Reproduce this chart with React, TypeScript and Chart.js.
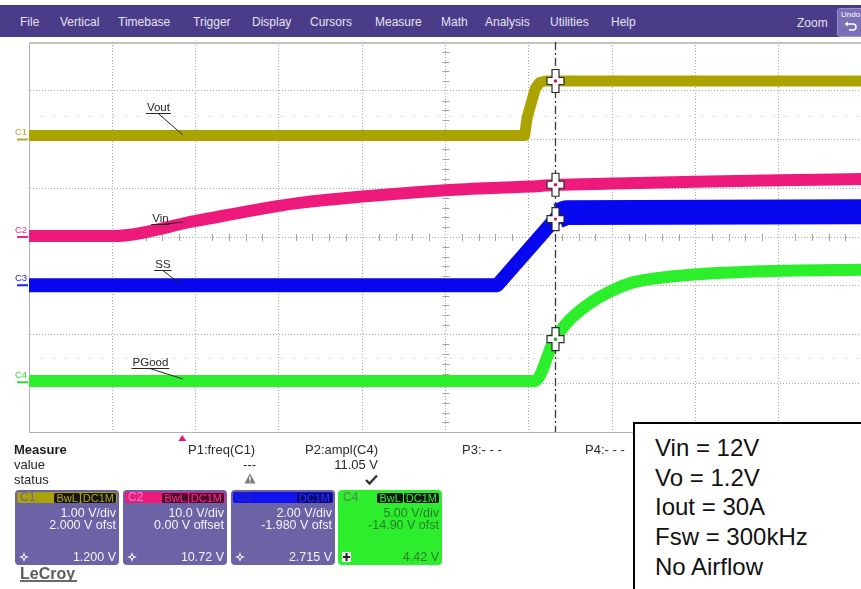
import React, { useEffect, useRef } from 'react';
import { Chart, registerables } from 'chart.js';

Chart.register(...registerables);

const FONT = '"Liberation Sans", Arial, Helvetica, sans-serif';

// ---------------- data ----------------
const channelNames = ['C1', 'C2', 'C3', 'C4'];
const traceNames = ['Vout', 'Vin', 'SS', 'PGood'];
const voltsPerDiv = [1.0, 10.0, 2.0, 5.0];
const offsetVolts = [2.0, 0.0, -1.98, -14.9];
const scaleLabels = ['1.00 V/div', '10.0 V/div', '2.00 V/div', '5.00 V/div'];
const offsetLabels = ['2.000 V ofst', '0.00 V offset', '-1.980 V ofst', '-14.90 V ofst'];
const cursorLabels = ['1.200 V', '10.72 V', '2.715 V', '4.42 V'];
const cursorVolts = [1.2, 10.72, 2.715, 4.42];
const cursorTime = 6.31; // horizontal divisions
const triggerTime = 1.84;

// time in horizontal divisions (0..10), values in volts
const voutTime = [0, 5.95, 5.98, 6.08, 6.13, 6.2, 10];
const voutVolts = [0.08, 0.08, 0.45, 1.05, 1.17, 1.2, 1.2];
const vinTime = [0, 1.0, 2.0, 3.0, 3.25, 4.0, 5.0, 6.0, 6.31, 7.0, 8.0, 9.0, 10.0];
const vinVolts = [0.2, 0.2, 3.3, 6.4, 7.0, 8.3, 9.6, 10.35, 10.65, 10.95, 11.35, 11.65, 11.9];
const ssTime = [0, 5.62, 6.35, 6.45, 10];
const ssVolts = [0.0, 0.0, 2.85, 2.98, 3.02];
const pgoodTime = [0, 6.07, 6.31, 6.49, 6.65, 6.85, 7.06, 7.25, 7.66, 8.26, 9.05, 10];
const pgoodVolts = [0.13, 0.13, 4.42, 6.4, 7.6, 8.75, 9.65, 10.25, 10.8, 11.2, 11.45, 11.55];

const menuItems = ['File', 'Vertical', 'Timebase', 'Trigger', 'Display', 'Cursors', 'Measure', 'Math', 'Analysis', 'Utilities', 'Help'];
const measureNames = ['P1:freq(C1)', 'P2:ampl(C4)', 'P3:- - -', 'P4:- - -'];
const measureValues = ['---', '11.05 V'];
const specLines = ['Vin = 12V', 'Vo = 1.2V', 'Iout = 30A', 'Fsw = 300kHz', 'No Airflow'];
const badges = [['BwL', 'DC1M'], ['BwL', 'DC1M'], ['DC1M'], ['BwL', 'DC1M']];

// ---------------- layout / style ----------------
const traceColors = ['#aba300', '#ee1a7b', '#0707f0', '#2cef2c'];
const labelColors = ['#b3ab3a', '#ee2a85', '#2323e6', '#38d838'];
const traceWidths = [11, 12, 14, 12];
const smoothTrace = [false, true, false, true];
const menuX = [20, 60, 118, 193, 252, 310, 375, 441, 485, 550, 611];
const measureX = [188, 305, 462, 585];
const boxLeft = [15, 123, 231, 338];
const headerBg = ['#aaa20a', '#ec1b7c', '#1212ee', '#2cee2c'];
const headerText = ['#6c62a2', '#ff8cc4', '#2626b4', '#5d7d5d'];
const badgeBg = ['#161616', '#4c0a2c', '#0c0c78', '#141414'];
const badgeFg = ['#b0a814', '#ff2e8e', '#3030ff', '#32ee32'];
// annotation anchors in screen divisions: text centre (gx, gy) and leader end (ex, ey)
const labelAnchors = [
  { gx: 1.554, gy: 2.667, ex: 1.848, ey: 2.092 },
  { gx: 1.578, gy: 0.39, ex: 1.848, ey: 0.308 },
  { gx: 1.608, gy: -0.554, ex: 1.836, ey: -0.985 },
  { gx: 1.458, gy: -2.564, ex: 1.848, ey: -2.913 },
];

function drawCross(ctx: CanvasRenderingContext2D, x: number, y: number, color: string) {
  const w = 3.5, hv = 11.5, hh = 8.5;
  ctx.beginPath();
  ctx.moveTo(x - w, y - hv); ctx.lineTo(x + w, y - hv); ctx.lineTo(x + w, y - w);
  ctx.lineTo(x + hh, y - w); ctx.lineTo(x + hh, y + w); ctx.lineTo(x + w, y + w);
  ctx.lineTo(x + w, y + hv); ctx.lineTo(x - w, y + hv); ctx.lineTo(x - w, y + w);
  ctx.lineTo(x - hh, y + w); ctx.lineTo(x - hh, y - w); ctx.lineTo(x - w, y - w);
  ctx.closePath();
  ctx.fillStyle = '#fbfbfb';
  ctx.fill();
  ctx.strokeStyle = '#2a2a2a';
  ctx.lineWidth = 1.2;
  ctx.stroke();
  ctx.fillStyle = color;
  ctx.beginPath();
  ctx.arc(x, y, 1.7, 0, Math.PI * 2);
  ctx.fill();
}

const scopePlugin = {
  id: 'scopeOverlay',
  beforeDatasetsDraw(chart: any) {
    const { ctx, chartArea: a, scales } = chart;
    const xs = scales.x, ys = scales.yDiv;
    ctx.save();
    // faint dotted rows
    ctx.strokeStyle = '#d4d4d4';
    ctx.lineWidth = 1;
    ctx.setLineDash([2, 10]);
    for (const gy of [2.48, -2.48]) {
      const y = Math.round(ys.getPixelForValue(gy)) + 0.5;
      ctx.beginPath(); ctx.moveTo(a.left + 12, y); ctx.lineTo(a.right, y); ctx.stroke();
    }
    ctx.setLineDash([]);
    // center axis ticks
    ctx.strokeStyle = '#a4a4a4';
    const cy = ys.getPixelForValue(0), cx = xs.getPixelForValue(5);
    for (let k = 1; k < 50; k++) {
      if (k % 5 === 0) continue;
      const x = Math.round(xs.getPixelForValue(k / 5)) + 0.5;
      ctx.beginPath(); ctx.moveTo(x, cy - 3); ctx.lineTo(x, cy + 4); ctx.stroke();
    }
    for (let k = 1; k < 40; k++) {
      if (k % 5 === 0) continue;
      const y = Math.round(ys.getPixelForValue(-4 + k / 5)) + 0.5;
      ctx.beginPath(); ctx.moveTo(cx - 3, y); ctx.lineTo(cx + 4, y); ctx.stroke();
    }
    // top frame
    ctx.strokeStyle = '#c2c2c2';
    ctx.lineWidth = 2;
    ctx.beginPath(); ctx.moveTo(a.left, a.top + 1); ctx.lineTo(a.right, a.top + 1); ctx.stroke();
    ctx.restore();
  },
  afterDatasetsDraw(chart: any) {
    const { ctx, chartArea: a, scales } = chart;
    const xs = scales.x, ys = scales.yDiv;
    ctx.save();
    // cursor line
    const cxp = Math.round(xs.getPixelForValue(cursorTime)) + 0.5;
    ctx.strokeStyle = '#3a3a3a';
    ctx.lineWidth = 1.3;
    ctx.setLineDash([8, 3, 2, 3]);
    ctx.beginPath(); ctx.moveTo(cxp, a.top); ctx.lineTo(cxp, a.bottom); ctx.stroke();
    ctx.setLineDash([]);
    // cursor crosses
    cursorVolts.forEach((v, i) => {
      const y = scales['y' + (i + 1)].getPixelForValue(v);
      drawCross(ctx, cxp, y, i === 3 ? '#2aa02a' : '#c02040');
    });
    // trace annotations
    ctx.font = '11.5px ' + FONT;
    ctx.textAlign = 'center';
    ctx.textBaseline = 'alphabetic';
    labelAnchors.forEach((p, i) => {
      const tx = xs.getPixelForValue(p.gx);
      const ty = ys.getPixelForValue(p.gy);
      const base = ty + 4.2;
      ctx.fillStyle = '#262626';
      ctx.fillText(traceNames[i], tx, base);
      const w = ctx.measureText(traceNames[i]).width;
      ctx.strokeStyle = '#262626';
      ctx.lineWidth = 1;
      ctx.beginPath();
      ctx.moveTo(tx - w / 2 - 1, Math.round(base + 2) + 0.5);
      ctx.lineTo(tx + w / 2 + 1, Math.round(base + 2) + 0.5);
      ctx.stroke();
      ctx.beginPath();
      ctx.moveTo(tx, base + 2.5);
      ctx.lineTo(xs.getPixelForValue(p.ex), ys.getPixelForValue(p.ey));
      ctx.stroke();
    });
    // channel ground markers
    ctx.font = '9.5px ' + FONT;
    ctx.textAlign = 'left';
    ctx.textBaseline = 'middle';
    channelNames.forEach((n, i) => {
      const y0 = scales['y' + (i + 1)].getPixelForValue(0);
      ctx.fillStyle = labelColors[i];
      ctx.fillText(n, 15, y0 - 7);
      ctx.fillRect(17, y0 - 1, 11, 2);
    });
    // trigger marker
    const tx = xs.getPixelForValue(triggerTime);
    ctx.fillStyle = '#ea1a72';
    ctx.beginPath();
    ctx.moveTo(tx, a.bottom + 3); ctx.lineTo(tx + 4, a.bottom + 9); ctx.lineTo(tx - 4, a.bottom + 9);
    ctx.closePath(); ctx.fill();
    ctx.restore();
  },
};

function buildConfig(): any {
  const series = [
    [voutTime, voutVolts],
    [vinTime, vinVolts],
    [ssTime, ssVolts],
    [pgoodTime, pgoodVolts],
  ];
  const datasets = series.map(([t, v], i) => {
    const ds: any = {
      label: traceNames[i],
      data: t.map((tt, k) => ({ x: tt, y: v[k] })),
      yAxisID: 'y' + (i + 1),
      borderColor: traceColors[i],
      backgroundColor: traceColors[i],
      borderWidth: traceWidths[i],
      pointRadius: 0,
      pointHoverRadius: 0,
      borderJoinStyle: 'round',
      borderCapStyle: 'butt',
      cubicInterpolationMode: smoothTrace[i] ? 'monotone' : 'default',
      tension: 0,
      fill: false,
      clip: 0,
    };
    if (i === 2) ds.segment = { borderWidth: (c: any) => (c.p0DataIndex >= 2 ? 25 : 14) };
    return ds;
  });
  const gridStyle = {
    grid: { color: '#a6a6a6', lineWidth: 1, drawTicks: false },
    border: { display: true, color: '#b2b2b2', width: 1, dash: [1, 2] },
    ticks: { display: false, stepSize: 1 },
  };
  const scales: any = {
    x: { type: 'linear', position: 'bottom', min: 0, max: 10, ...gridStyle },
    yDiv: { type: 'linear', position: 'left', min: -4, max: 4, ...gridStyle },
  };
  channelNames.forEach((_, i) => {
    scales['y' + (i + 1)] = {
      type: 'linear',
      display: false,
      min: -4 * voltsPerDiv[i] - offsetVolts[i],
      max: 4 * voltsPerDiv[i] - offsetVolts[i],
    };
  });
  return {
    type: 'line',
    data: { datasets },
    options: {
      responsive: false,
      animation: false,
      devicePixelRatio: 1,
      events: [],
      layout: { padding: { left: 29, top: 42, right: 13, bottom: 157 }, autoPadding: false },
      plugins: { legend: { display: false }, tooltip: { enabled: false } },
      scales,
    },
    plugins: [scopePlugin],
  };
}

function T(props: { x?: number; xr?: number; cy: number; size?: number; bold?: boolean; color?: string; children: any }) {
  const size = props.size ?? 13;
  const top = props.cy - 0.5885 * size;
  const style: any = {
    position: 'absolute',
    top,
    fontSize: size,
    lineHeight: size * 1.2 + 'px',
    fontWeight: props.bold ? 'bold' : 'normal',
    color: props.color ?? '#262626',
    whiteSpace: 'nowrap',
    fontFamily: FONT,
  };
  if (props.xr !== undefined) {
    style.left = props.xr - 300;
    style.width = 300;
    style.textAlign = 'right';
  } else {
    style.left = props.x;
  }
  return <div style={style}>{props.children}</div>;
}

function ChannelBox({ i }: { i: number }) {
  const green = i === 3;
  const bg = green ? '#2cee2c' : '#6c63a7';
  const fg = green ? '#2b7b2b' : '#f3f3f7';
  const left = boxLeft[i];
  const top = 490;
  return (
    <div style={{ position: 'absolute', left, top, width: 104, height: 75, background: bg, borderRadius: 4, overflow: 'hidden', fontFamily: FONT }}>
      <div style={{ position: 'absolute', left: 2, right: 2, top: 2, height: 11, background: headerBg[i], borderRadius: 2 }} />
      <div style={{ position: 'absolute', left: 5, top: 1, fontSize: 12, lineHeight: '13px', color: headerText[i] }}>{channelNames[i]}</div>
      <div style={{ position: 'absolute', right: 3, top: 3, display: 'flex', gap: 1 }}>
        {badges[i].map((b) => (
          <span key={b} style={{ background: badgeBg[i], color: badgeFg[i], fontSize: 11, lineHeight: '10px', height: 10, padding: '0 2px', borderRadius: 2 }}>{b}</span>
        ))}
      </div>
      <T xr={101} cy={23} size={12.5} color={fg}>{scaleLabels[i]}</T>
      <T xr={101} cy={35} size={12.5} color={fg}>{offsetLabels[i]}</T>
      <T xr={101} cy={67} size={12.5} color={fg}>{cursorLabels[i]}</T>
      {green ? (
        <svg style={{ position: 'absolute', left: 4, top: 62 }} width={9} height={10} viewBox="0 0 9 10">
          <rect x={0} y={0} width={9} height={10} fill="#f4f4f4" />
          <path d="M4.5 1 V9 M1 5 H8" stroke="#222" strokeWidth={2} />
        </svg>
      ) : (
        <svg style={{ position: 'absolute', left: 4, top: 62 }} width={10} height={10} viewBox="0 0 10 10">
          <path d="M5 0 L6.3 3.7 L10 5 L6.3 6.3 L5 10 L3.7 6.3 L0 5 L3.7 3.7 Z" fill="#f6f6f6" />
          <circle cx={5} cy={5} r={1.2} fill="#6c63a7" />
        </svg>
      )}
    </div>
  );
}

export default function App() {
  const ref = useRef<HTMLCanvasElement>(null);
  useEffect(() => {
    const chart = new Chart(ref.current as HTMLCanvasElement, buildConfig());
    return () => chart.destroy();
  }, []);

  return (
    <div style={{ position: 'fixed', left: 0, top: 0, width: 861, height: 589, overflow: 'hidden', background: '#ffffff', fontFamily: FONT }}>
      {/* menu bar */}
      <div style={{ position: 'absolute', left: 0, top: 5, width: 861, height: 32, background: '#4b3c8a' }} />
      {menuItems.map((m, k) => (
        <T key={m} x={menuX[k]} cy={22.5} size={12} color="#e4e2f2">{m}</T>
      ))}
      <T x={797} cy={23} size={12} color="#e4e2f2">Zoom</T>
      <div style={{ position: 'absolute', left: 837, top: 8, width: 30, height: 27, background: '#7b6fb7', borderRadius: 3, border: '1px solid #9a90cc' }}>
        <div style={{ position: 'absolute', left: 3, top: 1, fontSize: 8, lineHeight: '9px', color: '#ffffff', fontFamily: FONT }}>Undo</div>
        <svg style={{ position: 'absolute', left: 6, top: 12 }} width={14} height={10} viewBox="0 0 14 10">
          <path d="M3 3 H9 A3 3 0 0 1 9 9 H5" stroke="#fff" strokeWidth={1.5} fill="none" />
          <path d="M0.5 3 L4 0.5 L4 5.5 Z" fill="#fff" />
        </svg>
      </div>

      <canvas ref={ref} width={875} height={589} style={{ position: 'absolute', left: 0, top: 0, width: 875, height: 589 }} />

      {/* measurement panel */}
      <T x={14} cy={450} bold color="#1c1c1c">Measure</T>
      <T x={14} cy={465}>value</T>
      <T x={14} cy={480}>status</T>
      {measureNames.map((m, k) => (
        <T key={m} x={measureX[k]} cy={450} color="#2c2c2c">{m}</T>
      ))}
      <T xr={256} cy={465}>{measureValues[0]}</T>
      <T xr={378} cy={465}>{measureValues[1]}</T>
      <svg style={{ position: 'absolute', left: 244, top: 473 }} width={12} height={11} viewBox="0 0 12 11">
        <path d="M6 0.5 L11.5 10.5 H0.5 Z" fill="#7a7a7a" />
        <path d="M6 3.5 V7.5 M6 8.5 V9.5" stroke="#fff" strokeWidth={1.4} />
      </svg>
      <svg style={{ position: 'absolute', left: 365, top: 474 }} width={13} height={11} viewBox="0 0 13 11">
        <path d="M1 6 L4.5 9.5 L12 1.5" stroke="#333" strokeWidth={2.4} fill="none" />
      </svg>
      {channelNames.map((_, i) => <ChannelBox key={i} i={i} />)}
      <T x={20} cy={573.5} size={16} bold color="#5c5c5c">LeCroy</T>
      <div style={{ position: 'absolute', left: 20, top: 580, width: 57, height: 2, background: '#6a6a6a' }} />

      {/* conditions box */}
      <div style={{ position: 'absolute', left: 633, top: 422, width: 260, height: 200, border: '2px solid #000', background: '#fff', boxSizing: 'border-box' }} />
      {specLines.map((s, k) => (
        <T key={s} x={655} cy={448 + k * 29.7} size={24} color="#111">{s}</T>
      ))}
    </div>
  );
}
